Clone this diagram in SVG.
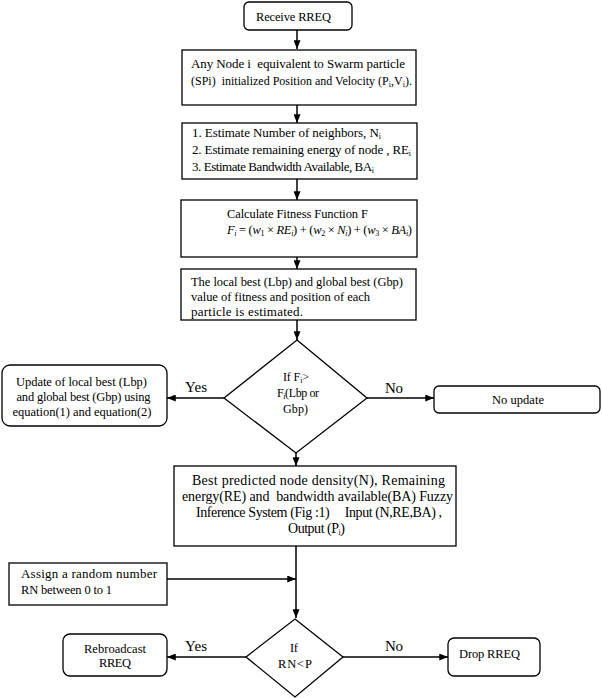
<svg xmlns="http://www.w3.org/2000/svg" width="602" height="698" viewBox="0 0 602 698">
<defs>
<marker id="ah" viewBox="0 0 10 8" refX="10" refY="4" markerWidth="9" markerHeight="7" markerUnits="userSpaceOnUse" orient="auto">
<path d="M0,0 L10,4 L0,8 z" fill="#000"/>
</marker>
<style>
.b{fill:#fff;stroke:#000;stroke-width:1.3}
.t{font-family:"Liberation Serif","Times New Roman",serif;font-size:12.5px;fill:#000}
.t13{font-size:13px}
.t14{font-size:14px}
.l{font-family:"Liberation Serif","Times New Roman",serif;font-size:15px;fill:#000}
.m{font-style:italic}
.s{font-size:8px}
.e{stroke:#000;stroke-width:1.5;fill:none}
.a{marker-end:url(#ah)}
</style>
</defs>
<rect width="602" height="698" fill="#fff"/>
<g id="connectors">
<line class="e a" x1="297" y1="30" x2="297" y2="49"/>
<line class="e a" x1="297" y1="105" x2="297" y2="123"/>
<line class="e a" x1="297" y1="179" x2="297" y2="200"/>
<line class="e a" x1="297" y1="257" x2="297" y2="269"/>
<line class="e a" x1="297" y1="320" x2="297" y2="340"/>
<line class="e a" x1="224" y1="398" x2="167" y2="398"/>
<line class="e a" x1="367" y1="398" x2="434" y2="398"/>
<line class="e a" x1="296" y1="453" x2="296" y2="466"/>
<line class="e a" x1="296" y1="546" x2="296" y2="618"/>
<line class="e a" x1="167" y1="579" x2="296" y2="579"/>
<line class="e a" x1="246" y1="657" x2="167" y2="657"/>
<line class="e a" x1="343" y1="657" x2="448" y2="657"/>
<text class="l" x="185" y="392" textLength="22">Yes</text>
<text class="l" x="385" y="393" textLength="18">No</text>
<text class="l" x="185" y="651" textLength="22">Yes</text>
<text class="l" x="385" y="651" textLength="18">No</text>
</g>
<g id="receive">
<rect class="b" x="244" y="2" width="108" height="28" rx="5"/>
<text class="t" x="256" y="21" textLength="75">Receive RREQ</text>
</g>
<g id="init">
<rect class="b" x="182" y="50" width="234" height="55"/>
<text class="t t13" x="191" y="68" textLength="214" xml:space="preserve">Any Node i  equivalent to Swarm particle</text>
<text class="t" x="191" y="85" style="font-size:12px" xml:space="preserve">(SPi)  initialized Position and Velocity (P<tspan class="s" dy="2">i</tspan><tspan dy="-2">,V</tspan><tspan class="s" dy="2">i</tspan><tspan dy="-2">).</tspan></text>
</g>
<g id="estimate">
<rect class="b" x="182" y="123" width="235" height="56"/>
<text class="t t13" x="192" y="137" textLength="189">1. Estimate Number of neighbors, N<tspan class="s" dy="2">i</tspan></text>
<text class="t t13" x="192" y="154" textLength="219">2. Estimate remaining energy of node , RE<tspan class="s" dy="2">i</tspan></text>
<text class="t t13" x="192" y="171" textLength="182">3. Estimate Bandwidth Available, BA<tspan class="s" dy="2">i</tspan></text>
</g>
<g id="fitness">
<rect class="b" x="181" y="200" width="236" height="57"/>
<text class="t" x="227" y="218" textLength="141">Calculate Fitness Function F</text>
<text class="t" x="227" y="234" textLength="185"><tspan class="m">F</tspan><tspan class="m s" dy="2">i</tspan><tspan dy="-2"> = (</tspan><tspan class="m">w</tspan><tspan class="s" dy="2">1</tspan><tspan dy="-2"> × </tspan><tspan class="m">RE</tspan><tspan class="m s" dy="2">i</tspan><tspan dy="-2">) + (</tspan><tspan class="m">w</tspan><tspan class="s" dy="2">2</tspan><tspan dy="-2"> × </tspan><tspan class="m">N</tspan><tspan class="m s" dy="2">i</tspan><tspan dy="-2">) + (</tspan><tspan class="m">w</tspan><tspan class="s" dy="2">3</tspan><tspan dy="-2"> × </tspan><tspan class="m">BA</tspan><tspan class="m s" dy="2">i</tspan><tspan dy="-2">)</tspan></text>
</g>
<g id="best">
<rect class="b" x="181" y="269" width="235" height="51"/>
<text class="t" x="191" y="286" textLength="212">The local best (Lbp) and global best (Gbp)</text>
<text class="t" x="191" y="301" textLength="179">value of fitness and position of each</text>
<text class="t t13" x="191" y="316" textLength="112">particle is estimated.</text>
</g>
<g id="decision1">
<polygon class="b" points="297,340 367,398 296,453 224,398"/>
<text class="t" x="283" y="381" style="font-size:12px" textLength="26">If F<tspan class="s" dy="2">i</tspan><tspan dy="-2">&gt;</tspan></text>
<text class="t" x="277" y="397" style="font-size:12px" textLength="42">F<tspan class="s" dy="2">i</tspan><tspan dy="-2">(Lbp or</tspan></text>
<text class="t" x="283" y="413" style="font-size:12px" textLength="25">Gbp)</text>
</g>
<g id="update">
<rect class="b" x="2" y="365" width="165" height="61" rx="8"/>
<text class="t" x="16" y="386" textLength="131">Update of local best (Lbp)</text>
<text class="t" x="16.5" y="401" textLength="134">and global best (Gbp) using</text>
<text class="t" x="12.5" y="416" textLength="139">equation(1) and equation(2)</text>
</g>
<g id="noupdate">
<rect class="b" x="434" y="386" width="166" height="27" rx="5"/>
<text class="t" x="492" y="404" textLength="52">No update</text>
</g>
<g id="fuzzy">
<rect class="b" x="174" y="466" width="282" height="80"/>
<text class="t t14" x="192" y="485" textLength="253">Best predicted node density(N), Remaining</text>
<text class="t t14" x="182" y="501" textLength="271" xml:space="preserve">energy(RE) and  bandwidth available(BA) Fuzzy</text>
<text class="t t14" x="196" y="517" textLength="246" xml:space="preserve">Inference System (Fig :1)     Input (N,RE,BA) ,</text>
<text class="t t14" x="288" y="533" textLength="57">Output (P<tspan class="s" dy="2">i</tspan><tspan dy="-2">)</tspan></text>
</g>
<g id="assign">
<rect class="b" x="9" y="563" width="158" height="42"/>
<text class="t t13" x="21" y="578" textLength="136">Assign a random number</text>
<text class="t" x="21" y="594" textLength="91">RN between 0 to 1</text>
</g>
<g id="decision2">
<polygon class="b" points="295,619 343,657 295,697 246,657"/>
<text class="t" x="290" y="652" textLength="8">If</text>
<text class="t" x="278" y="668" textLength="34">RN&lt;P</text>
</g>
<g id="rebroadcast">
<rect class="b" x="63" y="634" width="104" height="42" rx="7"/>
<text class="t" x="84" y="653" textLength="62">Rebroadcast</text>
<text class="t" x="99" y="667" textLength="32">RREQ</text>
</g>
<g id="drop">
<rect class="b" x="448" y="638" width="92" height="38" rx="6"/>
<text class="t" x="459" y="658" textLength="61">Drop RREQ</text>
</g>
</svg>
